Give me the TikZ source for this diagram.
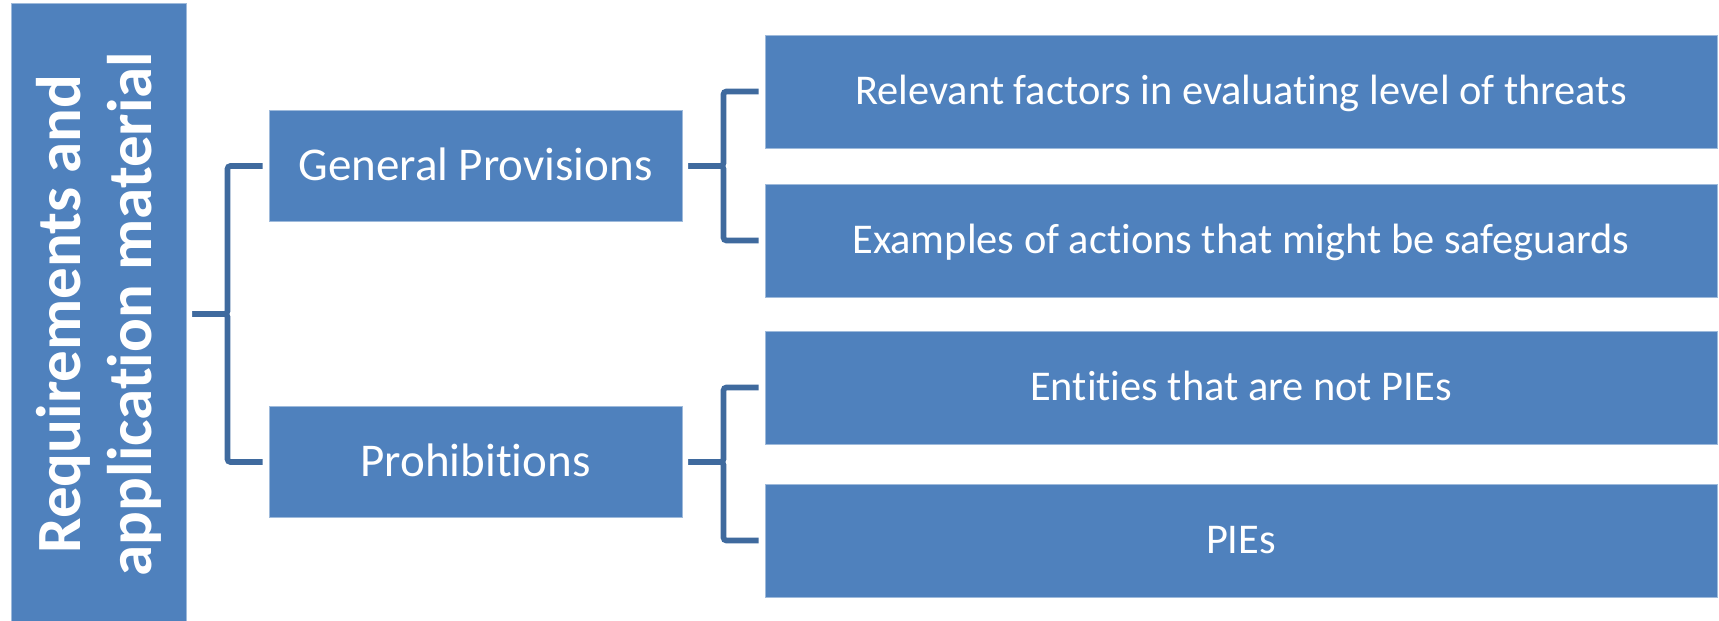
\documentclass[tikz,border=0pt]{standalone}
\usepackage{fontspec}
\usepackage{graphicx}
\setmainfont{Carlito}[Ligatures=CommonOff]
\usetikzlibrary{calc}
\definecolor{boxblue}{HTML}{4F81BD}
\definecolor{linkblue}{HTML}{3F6A9E}
\tikzset{
  box/.style={fill=boxblue, draw=boxblue!55!white, line width=0.8pt, text=white, inner sep=0pt},
  topbox/.style={box, minimum width=175pt, minimum height=622pt, font=\bfseries\fontsize{63}{71}\selectfont},
  midbox/.style={box, minimum width=413pt, minimum height=111pt, font=\fontsize{47}{56}\selectfont, text height=29.7pt, text depth=0pt},
  leafbox/.style={box, minimum width=952pt, minimum height=113pt, font=\fontsize{42.4}{50}\selectfont, text height=26.8pt, text depth=0pt},
}
\begin{document}
\begin{tikzpicture}[x=1pt, y=1pt, grow'=right,
    edge from parent/.style={draw=linkblue, line width=5.7pt, rounded corners=3pt},
    edge from parent path={([xshift=6pt]\tikzparentnode.east) -| ($(\tikzparentnode.east)!.5!(\tikzchildnode.west)$) |- ([xshift=-6pt]\tikzchildnode.west)},
    level 1/.style={level distance=377pt, sibling distance=296pt},
    level 2/.style={level distance=765.5pt, sibling distance=149pt}]
  \useasboundingbox (0,0) rectangle (1719,621);
  \node[topbox] (req) at (98.5,307) {\rotatebox{90}{\parbox{600pt}{\centering Requirements and\\application material}}}
    child { node[midbox] (gen) {General Provisions}
      child { node[leafbox] (rel) {Relevant factors in evaluating level of threats} }
      child { node[leafbox] (ex) {Examples of actions that might be safeguards} }
    }
    child { node[midbox] (pro) {Prohibitions}
      child { node[leafbox] (ent) {Entities that are not PIEs} }
      child { node[leafbox, yshift=-4pt] (pie) {PIEs} }
    };
\end{tikzpicture}
\end{document}
